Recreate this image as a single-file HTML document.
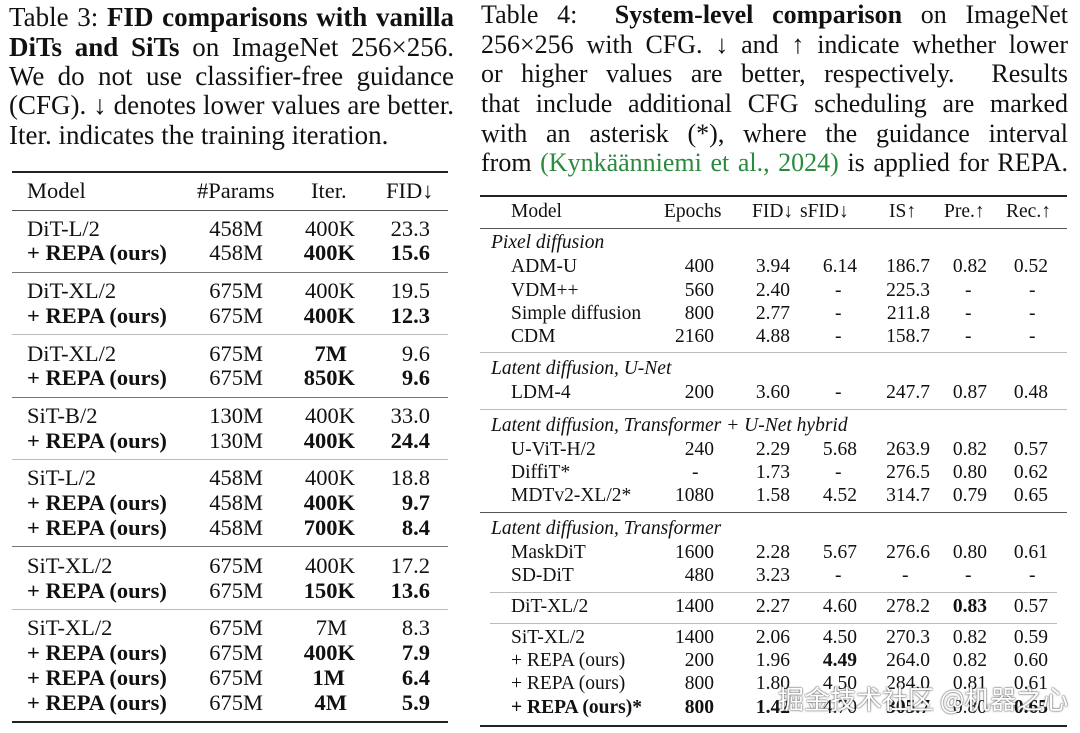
<!DOCTYPE html>
<html><head><meta charset="utf-8"><style>
body{margin:0;width:1080px;height:733px;background:#fff;position:relative;overflow:hidden;font-family:"Liberation Serif",serif;color:#111}
.a{position:absolute;white-space:nowrap}
.cap{position:absolute;white-space:nowrap;text-align:justify;text-align-last:justify}
.L{font-size:22.5px;line-height:24px}
.R{font-size:19.5px;line-height:22px}
.hr{position:absolute;height:1px;background:#bbb}
.th{position:absolute;height:2px;background:#222}
b{font-weight:bold}
.lc{font-size:27px;line-height:30px}
.rc{font-size:26px;line-height:30px}
.wm{position:absolute;left:778px;top:680px;font-family:"Noto Sans CJK SC",sans-serif;font-size:26px;color:#fff;text-shadow:0 0 1px #555,0 0 2px #555;white-space:nowrap}
</style></head><body>

<!-- Left caption -->
<div class="cap lc" style="left:9px;top:2px;width:445px">Table 3: <b>FID comparisons with vanilla</b></div>
<div class="cap lc" style="left:9px;top:32px;width:445px"><b>DiTs and SiTs</b> on ImageNet 256×256.</div>
<div class="cap lc" style="left:9px;top:61px;width:445px">We do not use classifier-free guidance</div>
<div class="cap lc" style="left:9px;top:90px;width:445px">(CFG). ↓ denotes lower values are better.</div>
<div class="a lc" style="left:9px;top:120px">Iter. indicates the training iteration.</div>

<!-- Left table -->
<div class="th" style="left:12px;top:171px;width:436px"></div>
<div class="a L" style="left:27px;top:179px">Model</div>
<div class="a L" style="left:197px;top:179px">#Params</div>
<div class="a L" style="left:311px;top:179px">Iter.</div>
<div class="a L" style="left:386px;top:179px">FID↓</div>
<div class="hr" style="left:12px;top:210px;width:436px;background:#555"></div>

<div class="a L" style="left:27px;top:217px">DiT-L/2</div><div class="a L" style="right:817px;top:217px">458M</div><div class="a L" style="right:725px;top:217px">400K</div><div class="a L" style="right:650px;top:217px">23.3</div>
<div class="a L" style="left:27px;top:241px"><b>+ REPA (ours)</b></div><div class="a L" style="right:817px;top:241px">458M</div><div class="a L" style="right:725px;top:241px"><b>400K</b></div><div class="a L" style="right:650px;top:241px"><b>15.6</b></div>
<div class="hr" style="left:12px;top:272px;width:436px;background:#777"></div>
<div class="a L" style="left:27px;top:279px">DiT-XL/2</div><div class="a L" style="right:817px;top:279px">675M</div><div class="a L" style="right:725px;top:279px">400K</div><div class="a L" style="right:650px;top:279px">19.5</div>
<div class="a L" style="left:27px;top:304px"><b>+ REPA (ours)</b></div><div class="a L" style="right:817px;top:304px">675M</div><div class="a L" style="right:725px;top:304px"><b>400K</b></div><div class="a L" style="right:650px;top:304px"><b>12.3</b></div>
<div class="hr" style="left:12px;top:334px;width:436px"></div>
<div class="a L" style="left:27px;top:342px">DiT-XL/2</div><div class="a L" style="right:817px;top:342px">675M</div><div class="a L" style="right:733px;top:342px"><b>7M</b></div><div class="a L" style="right:650px;top:342px">9.6</div>
<div class="a L" style="left:27px;top:366px"><b>+ REPA (ours)</b></div><div class="a L" style="right:817px;top:366px">675M</div><div class="a L" style="right:725px;top:366px"><b>850K</b></div><div class="a L" style="right:650px;top:366px"><b>9.6</b></div>
<div class="hr" style="left:12px;top:397px;width:436px;background:#777"></div>
<div class="a L" style="left:27px;top:404px">SiT-B/2</div><div class="a L" style="right:817px;top:404px">130M</div><div class="a L" style="right:725px;top:404px">400K</div><div class="a L" style="right:650px;top:404px">33.0</div>
<div class="a L" style="left:27px;top:429px"><b>+ REPA (ours)</b></div><div class="a L" style="right:817px;top:429px">130M</div><div class="a L" style="right:725px;top:429px"><b>400K</b></div><div class="a L" style="right:650px;top:429px"><b>24.4</b></div>
<div class="hr" style="left:12px;top:459px;width:436px"></div>
<div class="a L" style="left:27px;top:466px">SiT-L/2</div><div class="a L" style="right:817px;top:466px">458M</div><div class="a L" style="right:725px;top:466px">400K</div><div class="a L" style="right:650px;top:466px">18.8</div>
<div class="a L" style="left:27px;top:491px"><b>+ REPA (ours)</b></div><div class="a L" style="right:817px;top:491px">458M</div><div class="a L" style="right:725px;top:491px"><b>400K</b></div><div class="a L" style="right:650px;top:491px"><b>9.7</b></div>
<div class="a L" style="left:27px;top:516px"><b>+ REPA (ours)</b></div><div class="a L" style="right:817px;top:516px">458M</div><div class="a L" style="right:725px;top:516px"><b>700K</b></div><div class="a L" style="right:650px;top:516px"><b>8.4</b></div>
<div class="hr" style="left:12px;top:546px;width:436px;background:#777"></div>
<div class="a L" style="left:27px;top:554px">SiT-XL/2</div><div class="a L" style="right:817px;top:554px">675M</div><div class="a L" style="right:725px;top:554px">400K</div><div class="a L" style="right:650px;top:554px">17.2</div>
<div class="a L" style="left:27px;top:579px"><b>+ REPA (ours)</b></div><div class="a L" style="right:817px;top:579px">675M</div><div class="a L" style="right:725px;top:579px"><b>150K</b></div><div class="a L" style="right:650px;top:579px"><b>13.6</b></div>
<div class="hr" style="left:12px;top:609px;width:436px"></div>
<div class="a L" style="left:27px;top:616px">SiT-XL/2</div><div class="a L" style="right:817px;top:616px">675M</div><div class="a L" style="right:733px;top:616px">7M</div><div class="a L" style="right:650px;top:616px">8.3</div>
<div class="a L" style="left:27px;top:641px"><b>+ REPA (ours)</b></div><div class="a L" style="right:817px;top:641px">675M</div><div class="a L" style="right:725px;top:641px"><b>400K</b></div><div class="a L" style="right:650px;top:641px"><b>7.9</b></div>
<div class="a L" style="left:27px;top:666px"><b>+ REPA (ours)</b></div><div class="a L" style="right:817px;top:666px">675M</div><div class="a L" style="right:735px;top:666px"><b>1M</b></div><div class="a L" style="right:650px;top:666px"><b>6.4</b></div>
<div class="a L" style="left:27px;top:691px"><b>+ REPA (ours)</b></div><div class="a L" style="right:817px;top:691px">675M</div><div class="a L" style="right:733px;top:691px"><b>4M</b></div><div class="a L" style="right:650px;top:691px"><b>5.9</b></div>
<div class="th" style="left:12px;top:721px;width:436px"></div>

<!-- Right caption -->
<div class="cap rc" style="left:481px;top:0px;width:587px">Table 4: &nbsp;<b>System-level comparison</b> on ImageNet</div>
<div class="cap rc" style="left:481px;top:30px;width:587px">256×256 with CFG. ↓ and ↑ indicate whether lower</div>
<div class="cap rc" style="left:481px;top:59px;width:587px">or higher values are better, respectively. &nbsp;Results</div>
<div class="cap rc" style="left:481px;top:89px;width:587px">that include additional CFG scheduling are marked</div>
<div class="cap rc" style="left:481px;top:119px;width:587px">with an asterisk (*), where the guidance interval</div>
<div class="cap rc" style="left:481px;top:148px;width:587px">from <span style="color:#2a8a3e">(Kynkäänniemi et al., 2024)</span> is applied for REPA.</div>

<!-- Right table -->
<div class="th" style="left:480px;top:195px;width:587px"></div>
<div class="a R" style="left:511px;top:201px">Model</div>
<div class="a R" style="left:664px;top:201px">Epochs</div>
<div class="a R" style="left:752px;top:201px">FID↓</div>
<div class="a R" style="left:800px;top:201px">sFID↓</div>
<div class="a R" style="left:889px;top:201px">IS↑</div>
<div class="a R" style="left:944px;top:201px">Pre.↑</div>
<div class="a R" style="left:1006px;top:201px">Rec.↑</div>
<div class="hr" style="left:480px;top:228px;width:587px;background:#555"></div>

<div class="a R" style="left:491px;top:232px;font-style:italic">Pixel diffusion</div>
<div class="a R" style="left:511px;top:256px">ADM-U</div><div class="a R" style="right:366px;top:256px">400</div><div class="a R" style="right:290px;top:256px">3.94</div><div class="a R" style="right:223px;top:256px">6.14</div><div class="a R" style="right:150px;top:256px">186.7</div><div class="a R" style="right:93px;top:256px">0.82</div><div class="a R" style="right:32px;top:256px">0.52</div>
<div class="a R" style="left:511px;top:280px">VDM++</div><div class="a R" style="right:366px;top:280px">560</div><div class="a R" style="right:290px;top:280px">2.40</div><div class="a R" style="left:835px;top:280px">-</div><div class="a R" style="right:150px;top:280px">225.3</div><div class="a R" style="left:965px;top:280px">-</div><div class="a R" style="left:1029px;top:280px">-</div>
<div class="a R" style="left:511px;top:303px">Simple diffusion</div><div class="a R" style="right:366px;top:303px">800</div><div class="a R" style="right:290px;top:303px">2.77</div><div class="a R" style="left:835px;top:303px">-</div><div class="a R" style="right:150px;top:303px">211.8</div><div class="a R" style="left:965px;top:303px">-</div><div class="a R" style="left:1029px;top:303px">-</div>
<div class="a R" style="left:511px;top:326px">CDM</div><div class="a R" style="right:366px;top:326px">2160</div><div class="a R" style="right:290px;top:326px">4.88</div><div class="a R" style="left:835px;top:326px">-</div><div class="a R" style="right:150px;top:326px">158.7</div><div class="a R" style="left:965px;top:326px">-</div><div class="a R" style="left:1029px;top:326px">-</div>
<div class="hr" style="left:480px;top:352px;width:587px"></div>
<div class="a R" style="left:491px;top:358px;font-style:italic">Latent diffusion, U-Net</div>
<div class="a R" style="left:511px;top:382px">LDM-4</div><div class="a R" style="right:366px;top:382px">200</div><div class="a R" style="right:290px;top:382px">3.60</div><div class="a R" style="left:835px;top:382px">-</div><div class="a R" style="right:150px;top:382px">247.7</div><div class="a R" style="right:93px;top:382px">0.87</div><div class="a R" style="right:32px;top:382px">0.48</div>
<div class="hr" style="left:480px;top:409px;width:587px"></div>
<div class="a R" style="left:491px;top:415px;font-style:italic">Latent diffusion, Transformer + U-Net hybrid</div>
<div class="a R" style="left:511px;top:439px">U-ViT-H/2</div><div class="a R" style="right:366px;top:439px">240</div><div class="a R" style="right:290px;top:439px">2.29</div><div class="a R" style="right:223px;top:439px">5.68</div><div class="a R" style="right:150px;top:439px">263.9</div><div class="a R" style="right:93px;top:439px">0.82</div><div class="a R" style="right:32px;top:439px">0.57</div>
<div class="a R" style="left:511px;top:462px">DiffiT*</div><div class="a R" style="left:692px;top:462px">-</div><div class="a R" style="right:290px;top:462px">1.73</div><div class="a R" style="left:835px;top:462px">-</div><div class="a R" style="right:150px;top:462px">276.5</div><div class="a R" style="right:93px;top:462px">0.80</div><div class="a R" style="right:32px;top:462px">0.62</div>
<div class="a R" style="left:511px;top:485px">MDTv2-XL/2*</div><div class="a R" style="right:366px;top:485px">1080</div><div class="a R" style="right:290px;top:485px">1.58</div><div class="a R" style="right:223px;top:485px">4.52</div><div class="a R" style="right:150px;top:485px">314.7</div><div class="a R" style="right:93px;top:485px">0.79</div><div class="a R" style="right:32px;top:485px">0.65</div>
<div class="hr" style="left:480px;top:512px;width:587px;background:#555"></div>
<div class="a R" style="left:491px;top:518px;font-style:italic">Latent diffusion, Transformer</div>
<div class="a R" style="left:511px;top:542px">MaskDiT</div><div class="a R" style="right:366px;top:542px">1600</div><div class="a R" style="right:290px;top:542px">2.28</div><div class="a R" style="right:223px;top:542px">5.67</div><div class="a R" style="right:150px;top:542px">276.6</div><div class="a R" style="right:93px;top:542px">0.80</div><div class="a R" style="right:32px;top:542px">0.61</div>
<div class="a R" style="left:511px;top:565px">SD-DiT</div><div class="a R" style="right:366px;top:565px">480</div><div class="a R" style="right:290px;top:565px">3.23</div><div class="a R" style="left:835px;top:565px">-</div><div class="a R" style="left:902px;top:565px">-</div><div class="a R" style="left:965px;top:565px">-</div><div class="a R" style="left:1029px;top:565px">-</div>
<div class="hr" style="left:490px;top:592px;width:567px"></div>
<div class="a R" style="left:511px;top:596px">DiT-XL/2</div><div class="a R" style="right:366px;top:596px">1400</div><div class="a R" style="right:290px;top:596px">2.27</div><div class="a R" style="right:223px;top:596px">4.60</div><div class="a R" style="right:150px;top:596px">278.2</div><div class="a R" style="right:93px;top:596px"><b>0.83</b></div><div class="a R" style="right:32px;top:596px">0.57</div>
<div class="hr" style="left:490px;top:623px;width:567px"></div>
<div class="a R" style="left:511px;top:627px">SiT-XL/2</div><div class="a R" style="right:366px;top:627px">1400</div><div class="a R" style="right:290px;top:627px">2.06</div><div class="a R" style="right:223px;top:627px">4.50</div><div class="a R" style="right:150px;top:627px">270.3</div><div class="a R" style="right:93px;top:627px">0.82</div><div class="a R" style="right:32px;top:627px">0.59</div>
<div class="a R" style="left:511px;top:650px">+ REPA (ours)</div><div class="a R" style="right:366px;top:650px">200</div><div class="a R" style="right:290px;top:650px">1.96</div><div class="a R" style="right:223px;top:650px"><b>4.49</b></div><div class="a R" style="right:150px;top:650px">264.0</div><div class="a R" style="right:93px;top:650px">0.82</div><div class="a R" style="right:32px;top:650px">0.60</div>
<div class="a R" style="left:511px;top:673px">+ REPA (ours)</div><div class="a R" style="right:366px;top:673px">800</div><div class="a R" style="right:290px;top:673px">1.80</div><div class="a R" style="right:223px;top:673px">4.50</div><div class="a R" style="right:150px;top:673px">284.0</div><div class="a R" style="right:93px;top:673px">0.81</div><div class="a R" style="right:32px;top:673px">0.61</div>
<div class="a R" style="left:511px;top:697px"><b>+ REPA (ours)*</b></div><div class="a R" style="right:366px;top:697px"><b>800</b></div><div class="a R" style="right:290px;top:697px"><b>1.42</b></div><div class="a R" style="right:223px;top:697px">4.70</div><div class="a R" style="right:150px;top:697px"><b>305.7</b></div><div class="a R" style="right:93px;top:697px">0.80</div><div class="a R" style="right:32px;top:697px"><b>0.65</b></div>
<div class="th" style="left:480px;top:725px;width:587px"></div>

<div class="wm">掘金技术社区 @机器之心</div>
</body></html>
